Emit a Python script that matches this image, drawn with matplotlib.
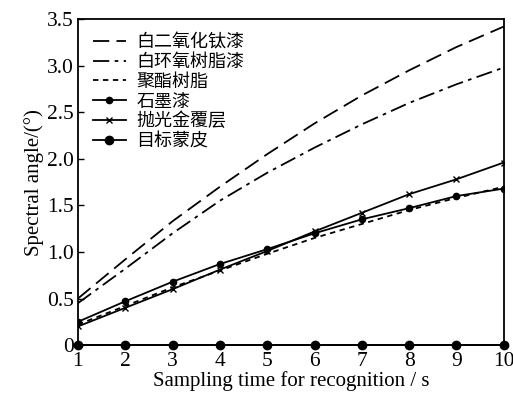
import matplotlib
matplotlib.use("Agg")
import matplotlib.pyplot as plt

t = [1, 2, 3, 4, 5, 6, 7, 8, 9, 10]
tio2 = [0.50, 0.92, 1.33, 1.70, 2.05, 2.38, 2.68, 2.95, 3.20, 3.42]
epoxy = [0.45, 0.82, 1.20, 1.55, 1.85, 2.12, 2.37, 2.60, 2.80, 2.98]
polyester = [0.22, 0.42, 0.62, 0.80, 0.98, 1.15, 1.30, 1.45, 1.58, 1.70]
graphite = [0.25, 0.47, 0.68, 0.87, 1.03, 1.20, 1.35, 1.47, 1.60, 1.68]
gold = [0.20, 0.40, 0.60, 0.81, 1.01, 1.22, 1.42, 1.62, 1.78, 1.96]
skin = [0, 0, 0, 0, 0, 0, 0, 0, 0, 0]
labels = ["白二氧化钛漆", "白环氧树脂漆", "聚酯树脂", "石墨漆", "抛光金覆层", "目标蒙皮"]
yticks = [0, 0.5, 1.0, 1.5, 2.0, 2.5, 3.0, 3.5]
ytick_labels = ["0", "0.5", "1.0", "1.5", "2.0", "2.5", "3.0", "3.5"]

plt.rcParams['font.family'] = ['Liberation Serif', 'Noto Sans CJK SC']
fig = plt.figure(figsize=(5.13, 3.98), dpi=100)
ax = fig.add_axes([0.152, 0.133, 0.830, 0.819])

lw = 1.3
ax.plot(t, tio2, color='black', lw=lw, dashes=(9, 4), label=labels[0])
ax.plot(t, epoxy, color='black', lw=lw, dashes=(9, 3, 2, 3), label=labels[1])
ax.plot(t, polyester, color='black', lw=lw, dashes=(3, 2.5), label=labels[2])
ax.plot(t, graphite, color='black', lw=lw, marker='o', ms=4.5, label=labels[3])
ax.plot(t, gold, color='black', lw=lw, marker='x', ms=4.5, mew=1.0, label=labels[4])
ax.plot(t, skin, color='black', lw=lw, marker='o', ms=6, label=labels[5], clip_on=False, zorder=5)

ax.set_xlim(1, 10)
ax.set_ylim(0, 3.5)
ax.set_xticks(t)
ax.set_yticks(yticks)
ax.set_yticklabels(ytick_labels)
ax.tick_params(axis='y', direction='in', length=4, width=1, labelsize=15.5, pad=3)
ax.tick_params(axis='x', direction='in', length=0, labelsize=15.5, pad=5)
for s in ax.spines.values():
    s.set_linewidth(1.3)

ax.set_xlabel("Sampling time for recognition / s", fontsize=15, labelpad=0)
ax.set_ylabel("Spectral angle/(°)", fontsize=15, labelpad=2)

leg = ax.legend(loc='upper left', frameon=False, fontsize=13, handlelength=1.8,
                labelspacing=0.1, borderaxespad=0.2, handletextpad=0.6,
                bbox_to_anchor=(0.01, 0.99))
for txt in leg.get_texts():
    txt.set_family(['Noto Sans CJK SC'])

fig.savefig("out.png", dpi=100)
